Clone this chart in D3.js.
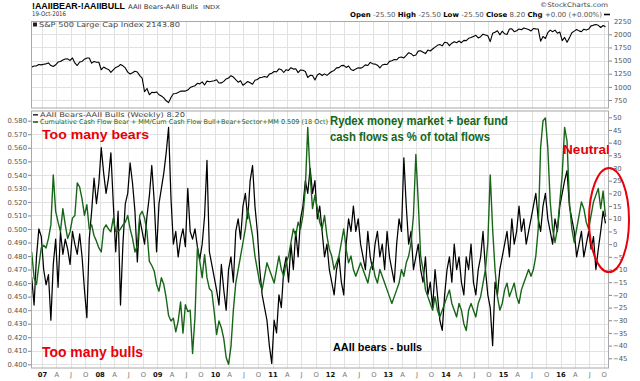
<!DOCTYPE html>
<html><head><meta charset="utf-8">
<script src="https://cdn.jsdelivr.net/npm/d3@7"></script>
<style>
html,body{margin:0;padding:0;background:#fff;}
svg{display:block;}
</style></head><body>
<svg id="c" width="640" height="381"></svg>
<script>
// ---------------- DATA (semi-monthly readings, first point late Oct 2006) ----------------
const startYear = 2006.82;   // decimal year of first reading
const perYear = 24;          // readings per year

const spx = [
 1377,1396,1400,1427,1418,
 1431,1438,1456,1406,1387,1420,1472,1482,1512,1530,1533,1503,1549,1455,1406,1474,1484,1527,1548,1549,1451,1481,1468,1468,
 1325,1378,1349,1331,1276,1323,1370,1386,1425,1400,1360,1280,1245,1267,1298,1283,1213,1166,907,969,850,896,890,903,
 850,826,790,735,700,798,870,873,893,919,921,919,940,987,1005,1021,1068,1057,1096,1036,1109,1096,1107,1115,
 1136,1074,1075,1104,1150,1169,1212,1187,1136,1089,1117,1031,1065,1102,1079,1049,1125,1141,1176,1183,1199,1181,1242,1258,
 1293,1286,1343,1327,1273,1326,1312,1364,1338,1345,1271,1321,1316,1292,1178,1219,1216,1131,1225,1253,1216,1247,1219,1258,
 1293,1312,1361,1366,1404,1408,1370,1398,1330,1310,1342,1362,1356,1379,1418,1407,1466,1441,1433,1412,1360,1416,1430,1426,
 1485,1498,1520,1515,1560,1569,1550,1598,1650,1631,1590,1606,1680,1686,1660,1633,1700,1682,1720,1757,1790,1806,1780,1848,
 1840,1783,1830,1859,1840,1872,1840,1884,1880,1924,1940,1960,1980,1931,1955,2003,1985,1972,1860,2018,2040,2068,1990,2059,
 2010,1995,2100,2105,2050,2068,2100,2086,2120,2107,2090,2063,2110,2104,2100,1870,1960,1920,2030,2079,2050,2080,2020,2044,
 1880,1940,1850,1932,2030,2060,2090,2065,2050,2097,2080,2099,2160,2174,2185,2171,2130,2168,2143
];

const aaii = [
 -13,-24,-5,6,3,-10,-16,-12,-30,-8,
 2,-17,5,-4,2,-2,-8,5,0,-4,
 4,-5,-18,-29,2,13,26,16,24,38,
 28,20,26,36,16,-3,13,-24,0,16,
 20,32,24,13,-7,10,5,0,11,19,
 31,17,-3,16,22,28,36,46,18,0,
 5,-5,2,6,-1,22,5,2,6,-1,
 -6,0,11,33,-3,-8,-13,-18,-24,-8,
 -18,-26,
 -10,-5,-15,5,10,2,15,20,10,25,31,15,5,-10,-20,-25,-30,-40,-47,
 -30,-35,-20,-25,-10,-5,-15,0,-10,5,-5,10,15,25,20,30,20,25,10,15,5,-5,0,-10,
 -15,-20,-10,-5,-15,-20,0,10,5,15,5,10,0,-5,-10,5,-5,-10,0,5,-5,0,-10,5,
 -5,-10,-15,0,10,5,34,15,0,5,-10,-5,0,-10,-15,-5,-20,-15,-25,-10,-20,-30,-34,-20,
 -10,-5,-15,0,-10,-5,-15,-20,-5,-10,0,-15,-20,-10,-5,5,-10,-20,-25,-40,-15,-20,-10,-5,
 0,5,-5,10,0,5,15,5,10,0,5,10,15,20,10,5,15,20,10,5,0,10,5,15,
 20,25,29,15,10,5,-5,0,5,-5,0,5,-2,3,-10,-2,5,13,8.2
];

const cashFlow = [
 0.483,0.464,0.459,0.473,0.486,0.488,0.486,0.493,0.503,0.540,
 0.513,0.505,0.498,0.515,0.503,0.493,0.498,0.508,0.510,0.534,
 0.531,0.522,0.510,0.518,0.500,0.503,0.495,0.491,0.486,0.483,
 0.500,0.503,0.500,0.498,0.508,0.498,0.498,0.500,0.503,0.505,
 0.510,0.500,0.493,0.483,0.488,0.510,0.513,0.508,0.498,0.476,
 0.473,0.469,0.459,0.454,0.464,0.459,0.449,0.436,0.432,0.434,
 0.424,0.432,0.446,0.423,0.444,0.439,0.440,0.408,0.435,0.486,
 0.476,0.464,0.481,0.464,0.456,0.454,0.439,0.422,0.432,0.427,
 0.419,0.405,
 0.400,0.413,0.440,0.460,0.470,0.480,0.490,0.500,0.515,0.505,0.495,0.480,0.470,0.460,0.455,0.465,0.475,0.470,0.465,
 0.460,0.470,0.480,0.470,0.465,0.475,0.480,0.490,0.500,0.495,0.505,0.500,0.510,0.530,0.575,0.540,0.515,0.525,0.515,0.505,0.500,0.510,0.495,0.485,
 0.480,0.470,0.475,0.480,0.490,0.500,0.485,0.475,0.480,0.470,0.465,0.470,0.475,0.470,0.465,0.460,0.470,0.475,0.465,0.460,0.470,0.465,0.460,0.455,
 0.450,0.445,0.450,0.455,0.460,0.470,0.465,0.475,0.480,0.490,0.510,0.555,0.520,0.480,0.470,0.455,0.450,0.445,0.440,0.450,0.440,0.435,0.440,0.445,
 0.450,0.455,0.445,0.440,0.435,0.445,0.440,0.430,0.425,0.440,0.445,0.440,0.435,0.445,0.450,0.460,0.470,0.490,0.540,0.500,0.470,0.450,0.440,0.445,
 0.455,0.460,0.450,0.455,0.460,0.450,0.445,0.455,0.460,0.465,0.470,0.465,0.470,0.480,0.500,0.560,0.580,0.582,0.560,0.520,0.500,0.490,0.500,0.520,
 0.540,0.575,0.565,0.520,0.500,0.490,0.500,0.510,0.520,0.515,0.505,0.500,0.510,0.520,0.525,0.530,0.515,0.528,0.509
];

const yearLabels = ["07","08","09","10","11","12","13","14","15","16"];
const monthLabels = ["A","J","O"];
const spTicks = [750,1000,1250,1500,1750,2000,2250];
const leftTicks = [0.400,0.410,0.420,0.430,0.440,0.450,0.460,0.470,0.480,0.490,0.500,0.510,0.520,0.530,0.540,0.550,0.560,0.570,0.580];
const rightTicks = [50,45,40,35,30,25,20,15,10,5,0,-5,-10,-15,-20,-25,-30,-35,-40,-45];

// ---------------- LAYOUT ----------------
const svg = d3.select("#c");
const L = 31, R = 609;
const topP = {t:21, b:108.5};
const lowP = {t:110.5, b:368.5};
const FONT = "'DejaVu Sans', Verdana, sans-serif";
const ARIAL = "'Liberation Sans', Arial, sans-serif";
const GREEN = "#176617";
const RED = "#e8000b";

function yearToDate(t){
  const y = Math.floor(t);
  const start = Date.UTC(y,0,1), end = Date.UTC(y+1,0,1);
  return new Date(start + (t-y)*(end-start));
}
const dateAt = i => yearToDate(startYear + i/perYear);

const x = d3.scaleUtc().domain([new Date(Date.UTC(2006,9,23)), new Date(Date.UTC(2016,10,3))]).range([L,R]);
const ySP = d3.scaleLinear().domain([750,2000]).range([100,34.3]);
const yL = d3.scaleLinear().domain([0.400,0.580]).range([364.3,120.7]);
const yR = d3.scaleLinear().domain([-45,50]).range([358.3,117.3]);

const quarters = [];
for (let y=2007; y<=2016; y++) for (let m=0; m<12; m+=3) quarters.push(new Date(Date.UTC(y,m,1)));

svg.append("rect").attr("width",640).attr("height",381).attr("fill","#fff");

function panel(p, hTicks, yScale){
  const g = svg.append("g");
  g.append("rect").attr("x",L).attr("y",p.t).attr("width",R-L).attr("height",p.b-p.t).attr("fill","#fff");
  g.selectAll("line.v").data(quarters).join("line")
    .attr("x1",d=>Math.round(x(d))+0.5).attr("x2",d=>Math.round(x(d))+0.5)
    .attr("y1",p.t).attr("y2",p.b).attr("stroke","#e2e2e2").attr("stroke-width",1);
  g.selectAll("line.h").data(hTicks.filter(v=>{const yy=yScale(v);return yy>p.t+0.5&&yy<p.b-0.5;})).join("line")
    .attr("x1",L).attr("x2",R)
    .attr("y1",d=>Math.round(yScale(d))+0.5).attr("y2",d=>Math.round(yScale(d))+0.5)
    .attr("stroke","#e2e2e2").attr("stroke-width",1);
  g.append("rect").attr("x",L+0.5).attr("y",p.t+0.5).attr("width",R-L-1).attr("height",p.b-p.t-1)
    .attr("fill","none").attr("stroke","#a8a8a8").attr("stroke-width",1);
  return g;
}
panel(topP, spTicks, ySP);
panel(lowP, leftTicks, yL);

const defs = svg.append("defs");
defs.append("clipPath").attr("id","ctop").append("rect").attr("x",L+1).attr("y",topP.t+1).attr("width",R-L-2).attr("height",topP.b-topP.t-2);
defs.append("clipPath").attr("id","clow").append("rect").attr("x",L+1).attr("y",lowP.t+1).attr("width",R-L-2).attr("height",lowP.b-lowP.t-2);

svg.append("path").attr("clip-path","url(#ctop)")
  .attr("d", d3.line().x((d,i)=>x(dateAt(i))).y(d=>ySP(d))(spx))
  .attr("fill","none").attr("stroke","#000").attr("stroke-width",1.1).attr("stroke-linejoin","round");

svg.append("path").attr("clip-path","url(#clow)")
  .attr("d", d3.line().x((d,i)=>x(dateAt(i))).y(d=>yR(d))(aaii))
  .attr("fill","none").attr("stroke","#000").attr("stroke-width",1.25).attr("stroke-linejoin","round");
svg.append("path").attr("clip-path","url(#clow)")
  .attr("d", d3.line().x((d,i)=>x(dateAt(i))).y(d=>yL(d))(cashFlow))
  .attr("fill","none").attr("stroke",GREEN).attr("stroke-width",1.4).attr("stroke-linejoin","round");

function styleAxis(g, size, color){
  g.select(".domain").remove();
  g.selectAll(".tick line").attr("stroke","#888");
  g.selectAll(".tick text").attr("font-family",FONT).attr("font-size",size).attr("fill",color);
}
const axSP = svg.append("g").attr("transform",`translate(${R},0)`)
  .call(d3.axisRight(ySP).tickValues(spTicks).tickSize(3).tickPadding(2).tickFormat(d3.format("d")));
styleAxis(axSP, 6.8, "#555");
axSP.selectAll(".tick").filter(d=>d===2250).select("line").remove();

const axL = svg.append("g").attr("transform",`translate(${L},0)`)
  .call(d3.axisLeft(yL).tickValues(leftTicks).tickSize(3).tickPadding(1).tickFormat(d3.format(".3f")));
styleAxis(axL, 6.8, "#555");

const axR = svg.append("g").attr("transform",`translate(${R},0)`)
  .call(d3.axisRight(yR).tickValues(rightTicks).tickSize(3).tickPadding(1).tickFormat(d3.format("d")));
styleAxis(axR, 6.8, "#555");

const axX = svg.append("g").attr("transform",`translate(0,${lowP.b})`)
  .call(d3.axisBottom(x).tickValues(quarters.filter(d=>d<=new Date(Date.UTC(2016,9,2)))).tickSize(0).tickPadding(4)
    .tickFormat(d=>{const m=d.getUTCMonth(); return m===0? yearLabels[d.getUTCFullYear()-2007] : monthLabels[m/3-1];}));
axX.select(".domain").remove();
axX.selectAll(".tick text").attr("font-family",FONT).attr("font-size",6.8)
  .attr("font-weight",d=>d.getUTCMonth()===0?"bold":"normal")
  .attr("fill",d=>d.getUTCMonth()===0?"#111":"#777");

function txt(s, xx, yy, o){
  o = o||{};
  const t = svg.append("text").attr("x",xx).attr("y",yy).text(s)
    .attr("font-family",o.family||FONT).attr("font-size",o.size||7)
    .attr("font-weight",o.weight||"normal").attr("fill",o.fill||"#000")
    .attr("text-anchor",o.anchor||"start");
  if (o.len) t.attr("textLength",o.len).attr("lengthAdjust","spacingAndGlyphs");
  return t;
}
txt("!AAIIBEAR-!AAIIBULL", 32, 8.5, {family:ARIAL, size:8.5, weight:"bold", len:93});
txt("AAII Bears-AAII Bulls", 128, 8.5, {size:6.5, fill:"#333", len:70});
txt("INDX", 203, 8.5, {size:5.5, fill:"#333", len:17});
txt("19-Oct-2016", 32, 16, {size:6.5, fill:"#333", len:34});
txt("\u00A9StockCharts.com", 608, 7, {size:6.3, fill:"#444", anchor:"end", len:68});

const hdr = svg.append("text").attr("x",350).attr("y",17).attr("font-family",FONT).attr("font-size",6.8)
  .attr("textLength",252).attr("lengthAdjust","spacingAndGlyphs");
[["Open ","bold","#000"],["-25.50  ","normal","#555"],["High ","bold","#000"],["-25.50  ","normal","#555"],
 ["Low ","bold","#000"],["-25.50  ","normal","#555"],["Close ","bold","#000"],["8.20  ","normal","#555"],
 ["Chg ","bold","#000"],["+0.00 (+0.00%)","normal","#555"]].forEach(([s,w,c])=>{
  hdr.append("tspan").text(s).attr("font-weight",w).attr("fill",c);
});
svg.append("line").attr("x1",604).attr("x2",610).attr("y1",14.5).attr("y2",14.5).attr("stroke","#000").attr("stroke-width",1.6);

svg.append("rect").attr("x",33).attr("y",22.5).attr("width",4).attr("height",4).attr("fill","#222");
txt("S&P 500 Large Cap Index 2143.80", 39, 27.3, {size:6.8, fill:"#444", len:141});

svg.append("line").attr("x1",33).attr("x2",38).attr("y1",114.8).attr("y2",114.8).attr("stroke","#333").attr("stroke-width",1.6);
txt("AAII Bears-AAII Bulls (Weekly) 8.20", 40, 117, {size:6.6, fill:"#444", len:145});
svg.append("line").attr("x1",33).attr("x2",38).attr("y1",122).attr("y2",122).attr("stroke",GREEN).attr("stroke-width",1.6);
txt("Cumulative Cash Flow Bear + MM/Cum Cash Flow Bull+Bear+Sector+MM 0.509 (18 Oct)", 40, 124.3, {size:6.6, fill:GREEN, len:288});

txt("Too many bears", 42, 138.5, {family:ARIAL, size:13.5, weight:"bold", fill:RED, len:107});
txt("Too many bulls", 42, 356.8, {family:ARIAL, size:14, weight:"bold", fill:RED, len:101});
txt("Rydex money market + bear fund", 330, 125, {family:ARIAL, size:12, weight:"bold", fill:GREEN, len:178});
txt("cash flows as % of total flows", 330, 140.5, {family:ARIAL, size:12, weight:"bold", fill:GREEN, len:160});
txt("Neutral", 563, 154, {family:ARIAL, size:13.6, weight:"bold", fill:RED});
txt("AAII bears - bulls", 333, 351, {family:ARIAL, size:11.5, weight:"bold", fill:"#000", len:89});

svg.append("ellipse").attr("cx",609).attr("cy",220).attr("rx",20).attr("ry",52)
  .attr("fill","none").attr("stroke",RED).attr("stroke-width",2);
</script>
</body></html>
